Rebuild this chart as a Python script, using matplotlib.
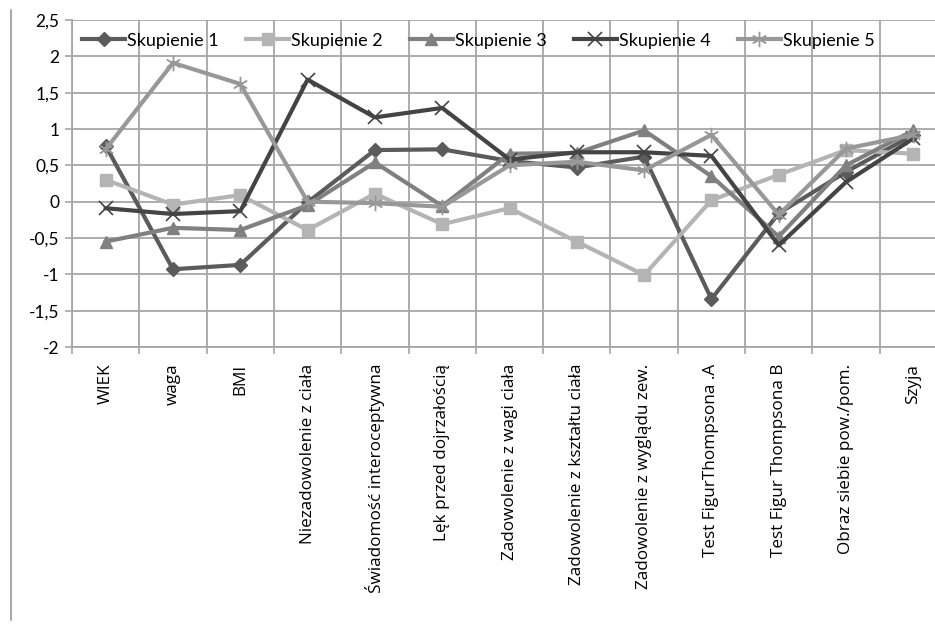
import matplotlib
matplotlib.use("Agg")
import matplotlib.pyplot as plt
from matplotlib.lines import Line2D
import numpy as np

plt.rcParams['font.family'] = ['Lato', 'DejaVu Sans']

categories = ["WIEK", "waga", "BMI", "Niezadowolenie z ciała",
              "Świadomość interoceptywna", "Lęk przed dojrzałością",
              "Zadowolenie z wagi ciała", "Zadowolenie z kształtu ciała",
              "Zadowolenie z wyglądu zew.", "Test FigurThompsona .A",
              "Test Figur Thompsona B", "Obraz siebie pow./pom.", "Szyja"]

skup1 = [0.77, -0.93, -0.87, -0.01, 0.71, 0.72, 0.56, 0.47, 0.62, -1.34, -0.16, 0.41, 0.92]
skup2 = [0.30, -0.04, 0.09, -0.39, 0.11, -0.31, -0.09, -0.55, -1.01, 0.02, 0.37, 0.71, 0.66]
skup3 = [-0.55, -0.36, -0.39, -0.05, 0.54, -0.06, 0.66, 0.67, 0.98, 0.35, -0.48, 0.50, 0.98]
skup4 = [-0.09, -0.17, -0.13, 1.68, 1.16, 1.29, 0.58, 0.68, 0.68, 0.63, -0.60, 0.27, 0.87]
skup5 = [0.72, 1.91, 1.62, 0.00, -0.02, -0.07, 0.50, 0.55, 0.43, 0.92, -0.18, 0.73, 0.92]

series_names = ["Skupienie 1", "Skupienie 2", "Skupienie 3", "Skupienie 4", "Skupienie 5"]
y_ticks = [-2, -1.5, -1, -0.5, 0, 0.5, 1, 1.5, 2, 2.5]
y_tick_labels = ["-2", "-1,5", "-1", "-0,5", "0", "0,5", "1", "1,5", "2", "2,5"]

fig = plt.figure(figsize=(9.35, 6.25), dpi=100)
ax = fig.add_axes([72/935, 1-347/625, 875/935, 327/625])

x = np.arange(len(categories))
grid_c = "#a6a6a6"
styles = [
    dict(color="#5b5b5b", marker="D", ms=7, mew=1),
    dict(color="#b4b4b4", marker="s", ms=9, mew=1),
    dict(color="#808080", marker="^", ms=9, mew=1),
    dict(color="#444444", marker="x", ms=10, mew=1.2),
    dict(color="#989898", marker=(6, 2, 0), ms=11, mew=1),
]
data = [skup1, skup2, skup3, skup4, skup5]
handles = []
for name, vals, st in zip(series_names, data, styles):
    ln, = ax.plot(x, vals, color=st["color"], lw=3, marker=st["marker"],
                  ms=st["ms"], mec=st["color"], mfc=st["color"], mew=st["mew"],
                  label=name, zorder=3)
    handles.append(ln)

ax.set_xlim(-0.5, len(categories) - 0.5)
ax.set_ylim(-2, 2.5)
ax.set_yticks(y_ticks)
ax.set_yticklabels(y_tick_labels, fontsize=12.5)
ax.set_xticks(x)
ax.set_xticklabels(categories, rotation=90, fontsize=12.3, va="top",
                   family=["Open Sans", "DejaVu Sans"])
ax.set_xticks(np.arange(-0.5, len(categories), 1), minor=True)
ax.tick_params(axis="x", which="major", length=0, pad=12)
ax.tick_params(axis="x", which="minor", length=5, color=grid_c, width=1.2)
ax.tick_params(axis="y", length=5, color=grid_c, width=1.2, pad=4)

ax.grid(True, which="major", axis="y", color=grid_c, lw=1.3)
ax.grid(True, which="minor", axis="x", color=grid_c, lw=1.3)
ax.set_axisbelow(True)
for s in ["top", "right"]:
    ax.spines[s].set_visible(False)
ax.spines["left"].set_color(grid_c)
ax.spines["bottom"].set_color(grid_c)
ax.spines["left"].set_linewidth(1.3)
ax.spines["bottom"].set_linewidth(1.3)

leg = ax.legend(handles=handles, loc="upper left", ncol=5, frameon=False,
                fontsize=13, handlelength=2.4, handletextpad=0.1,
                columnspacing=1.5, bbox_to_anchor=(-0.003, 1.0), borderaxespad=0.3)

fig.add_artist(Line2D([11/935, 11/935], [1-10/625, 1-620/625], color="#999999", lw=1.2))

fig.savefig("out.png", dpi=100)
